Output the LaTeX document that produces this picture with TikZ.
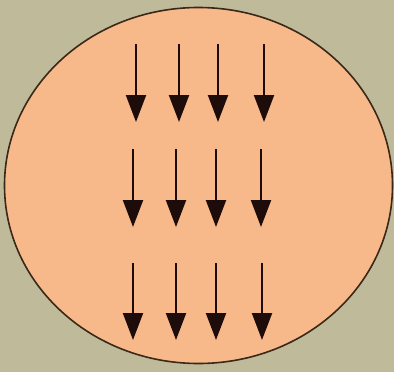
\documentclass[tikz,border=0pt]{standalone}
\usetikzlibrary{arrows.meta}
\definecolor{bgkhaki}{HTML}{BFBA9A}
\definecolor{cellfill}{HTML}{F8B98A}
\definecolor{rimcol}{HTML}{3A2818}
\definecolor{arrowcol}{HTML}{1E0C0A}
\tikzset{
  fieldarrow/.style={draw=arrowcol, line width=2.2pt, -{Triangle[length=27pt,width=20pt]}, arrowcol},
}
\begin{document}
\begin{tikzpicture}[x=1pt,y=-1pt]
\fill[bgkhaki] (0,0) rectangle (394,372);
\useasboundingbox (0,0) rectangle (394,372);
\draw[rimcol, fill=cellfill, line width=1.6pt] (198.5,185.5) ellipse [x radius=194, y radius=178];
% row 1
\foreach \x in {136,179,218,264} \draw[fieldarrow] (\x,44) -- (\x,122);
% row 2
\foreach \x in {133,176,216,261} \draw[fieldarrow] (\x,149) -- (\x,227);
% row 3
\foreach \x in {133,176,216,262} \draw[fieldarrow] (\x,263) -- (\x,340);
\end{tikzpicture}
\end{document}
